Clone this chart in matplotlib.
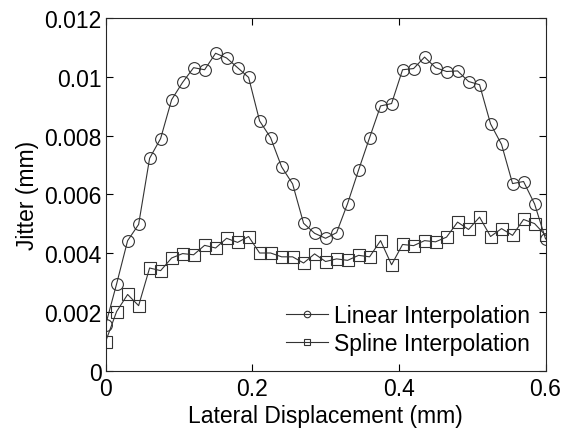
import numpy as np
import matplotlib
matplotlib.use('Agg')
import matplotlib.pyplot as plt

plt.rcParams['font.family'] = ['Liberation Sans', 'DejaVu Sans']

# lateral displacement sampled every 0.015 mm
displacement = np.arange(41) * 0.015

jitter_linear = [
    0.00157, 0.00296, 0.00443, 0.00498, 0.00723, 0.00790, 0.00922, 0.00981,
    0.01031, 0.01024, 0.01080, 0.01064, 0.01031, 0.00998, 0.00850, 0.00793,
    0.00694, 0.00636, 0.00502, 0.00468, 0.00451, 0.00470, 0.00569, 0.00683,
    0.00793, 0.00901, 0.00909, 0.01024, 0.01028, 0.01067, 0.01031, 0.01018,
    0.01020, 0.00984, 0.00973, 0.00840, 0.00770, 0.00637, 0.00644, 0.00568,
    0.00449,
]

jitter_spline = [
    0.00100, 0.00202, 0.00260, 0.00222, 0.00350, 0.00341, 0.00384, 0.00399,
    0.00395, 0.00427, 0.00418, 0.00451, 0.00437, 0.00457, 0.00401, 0.00401,
    0.00388, 0.00388, 0.00367, 0.00398, 0.00372, 0.00381, 0.00376, 0.00393,
    0.00388, 0.00443, 0.00361, 0.00430, 0.00426, 0.00443, 0.00439, 0.00455,
    0.00506, 0.00481, 0.00523, 0.00457, 0.00484, 0.00461, 0.00515, 0.00501,
    0.00461,
]

x_ticks = [0, 0.2, 0.4, 0.6]
x_tick_labels = ['0', '0.2', '0.4', '0.6']
y_ticks = [0, 0.002, 0.004, 0.006, 0.008, 0.010, 0.012]
y_tick_labels = ['0', '0.002', '0.004', '0.006', '0.008', '0.01', '0.012']

fig = plt.figure(figsize=(5.63, 4.31), dpi=100)
ax = fig.add_axes([0.1876, 0.137, 0.7814, 0.819])

line_style = dict(color='0.2', linewidth=0.8, markersize=8.5,
                  markerfacecolor='none', markeredgewidth=0.8)
ax.plot(displacement, jitter_linear, marker='o', label='Linear Interpolation', **line_style)
ax.plot(displacement, jitter_spline, marker='s', label='Spline Interpolation', **line_style)

ax.set_xlim(0, 0.6)
ax.set_ylim(0, 0.012)
ax.set_xticks(x_ticks)
ax.set_xticklabels(x_tick_labels)
ax.set_yticks(y_ticks)
ax.set_yticklabels(y_tick_labels)
ax.tick_params(direction='in', top=True, right=True, length=5, width=0.8,
               labelsize=16.5)
ax.tick_params(axis='x', pad=4)
ax.tick_params(axis='y', pad=3)
for spine in ax.spines.values():
    spine.set_linewidth(0.8)
    spine.set_color('0.15')

ax.set_xlabel('Lateral Displacement (mm)', fontsize=16.5, labelpad=3)
ax.set_ylabel('Jitter (mm)', fontsize=16.5, labelpad=4)

ax.legend(loc='lower right', frameon=False, fontsize=16.5, markerscale=0.55,
          handlelength=1.85, handletextpad=0.26, labelspacing=0.23,
          borderaxespad=0.28)

fig.savefig('out.png', dpi=100)
